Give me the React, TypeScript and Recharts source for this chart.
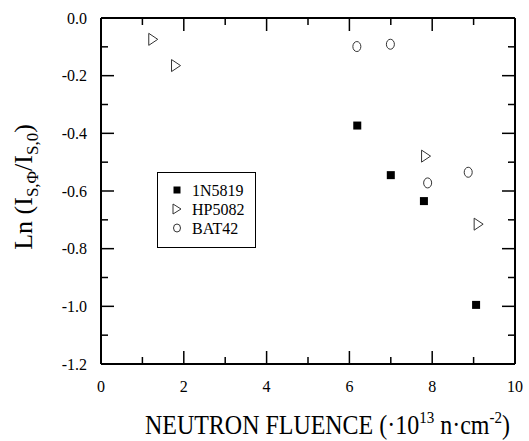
import { ScatterChart, Scatter, XAxis, YAxis, Legend, ReferenceLine } from 'recharts';

const FONT = "'Liberation Serif', 'Times New Roman', Times, serif";
const txt = { fontFamily: FONT };

// axis ticks (majors get labels)
const xTicks = [0, 1, 2, 3, 4, 5, 6, 7, 8, 9, 10];
const yTicks = [0, -0.1, -0.2, -0.3, -0.4, -0.5, -0.6, -0.7, -0.8, -0.9, -1.0, -1.1, -1.2];
const xDomain = [0, 10];
const yDomain = [-1.2, 0];

// series
const n5819 = [
  { x: 6.19, y: -0.373 },
  { x: 7.0, y: -0.545 },
  { x: 7.8, y: -0.635 },
  { x: 9.06, y: -0.995 },
];
const hp5082 = [
  { x: 1.25, y: -0.074 },
  { x: 1.8, y: -0.165 },
  { x: 7.84, y: -0.479 },
  { x: 9.11, y: -0.715 },
];
const bat42 = [
  { x: 6.18, y: -0.099 },
  { x: 6.99, y: -0.091 },
  { x: 7.89, y: -0.572 },
  { x: 8.87, y: -0.535 },
];

const seriesNames = ['1N5819', 'HP5082', 'BAT42'];

// chart box
const W = 529;
const H = 441;
const margin = { top: 18, right: 14, bottom: 0, left: 0 };
const yAxisW = 101;
const xAxisH = 77;
const plotW = W - margin.left - margin.right - yAxisW;
const plotH = H - margin.top - margin.bottom - xAxisH;

const isMajorX = (v: number) => Math.round(v) % 2 === 0;
const isMajorY = (v: number) => Math.round(Math.abs(v) * 10) % 2 === 0;

const Square = ({ cx, cy }: any) => <rect x={cx - 4} y={cy - 4} width={8} height={8} fill="#000" />;
const Triangle = ({ cx, cy }: any) => (
  <polygon
    points={`${cx - 4},${cy - 6} ${cx + 5},${cy} ${cx - 4},${cy + 6}`}
    fill="#fff"
    stroke="#333"
    strokeWidth={1}
  />
);
const Ring = ({ cx, cy }: any) => <ellipse cx={cx} cy={cy} rx={4} ry={5} fill="#fff" stroke="#333" strokeWidth={1} />;

// bottom ticks point up; the same ticks are mirrored on the top edge
const BottomTick = ({ x, y, payload }: any) => {
  const major = isMajorX(payload.value);
  const len = major ? 13 : 7;
  const yt = y - plotH;
  return (
    <g>
      <line x1={x} x2={x} y1={y} y2={y - len} stroke="#000" strokeWidth={1.5} />
      <line x1={x} x2={x} y1={yt} y2={yt + len} stroke="#000" strokeWidth={1.5} />
      {major && (
        <text x={x} y={y + 28} textAnchor="middle" fontSize={16} style={txt} fill="#000">
          {payload.value}
        </text>
      )}
    </g>
  );
};

// left ticks point right; the same ticks are mirrored on the right edge
const LeftTick = ({ x, y, payload }: any) => {
  const major = isMajorY(payload.value);
  const len = major ? 13 : 7;
  const xr = x + plotW;
  return (
    <g>
      <line x1={x} x2={x + len} y1={y} y2={y} stroke="#000" strokeWidth={1.5} />
      <line x1={xr} x2={xr - len} y1={y} y2={y} stroke="#000" strokeWidth={1.5} />
      {major && (
        <text x={x - 14} y={y + 5.5} textAnchor="end" fontSize={16} style={txt} fill="#000">
          {Number(payload.value).toFixed(1)}
        </text>
      )}
    </g>
  );
};

const xTitle = ({ viewBox }: any) => (
  <text
    x={viewBox.x + 44}
    y={viewBox.y + 70}
    fontSize={27}
    style={txt}
    fill="#000"
    textLength={365}
    lengthAdjust="spacingAndGlyphs"
  >
    NEUTRON FLUENCE (·10
    <tspan dy={-11} fontSize={17}>13</tspan>
    <tspan dy={11}> n·cm</tspan>
    <tspan dy={-11} fontSize={17}>-2</tspan>
    <tspan dy={11}>)</tspan>
  </text>
);

const yTitle = ({ viewBox }: any) => {
  const cx = viewBox.x + 32;
  const cy = viewBox.y + viewBox.height / 2 - 4;
  return (
    <text
      x={cx}
      y={cy}
      transform={`rotate(-90 ${cx} ${cy})`}
      textAnchor="middle"
      fontSize={26}
      style={txt}
      fill="#000"
    >
      Ln (I
      <tspan dy={6} fontSize={17}>S,Φ</tspan>
      <tspan dy={-6}>/I</tspan>
      <tspan dy={6} fontSize={17}>S,0</tspan>
      <tspan dy={-6}>)</tspan>
    </text>
  );
};

const LegendBox = () => (
  <svg width={99} height={76} style={{ display: 'block' }}>
    <rect x={0.5} y={0.5} width={98} height={75} fill="#fff" stroke="#000" strokeWidth={1} />
    {seriesNames.map((name, i) => {
      const cy = 18 + i * 19;
      return (
        <g key={name}>
          {i === 0 && <rect x={16.5} y={cy - 3.5} width={7} height={7} fill="#000" />}
          {i === 1 && (
            <polygon points={`16,${cy - 5} 24,${cy} 16,${cy + 5}`} fill="#fff" stroke="#333" strokeWidth={1} />
          )}
          {i === 2 && <ellipse cx={20} cy={cy} rx={3.5} ry={4} fill="#fff" stroke="#333" strokeWidth={1} />}
          <text x={35} y={cy + 5.5} fontSize={16} style={txt} fill="#000">
            {name}
          </text>
        </g>
      );
    })}
  </svg>
);

export default function App() {
  return (
    <div style={{ position: 'absolute', left: 0, top: 0, width: W, height: H, background: '#fff' }}>
      <ScatterChart width={W} height={H} margin={margin}>
        <XAxis
          dataKey="x"
          type="number"
          domain={xDomain}
          ticks={xTicks}
          interval={0}
          height={xAxisH}
          tickSize={0}
          tickMargin={0}
          tickLine={false}
          axisLine={{ stroke: '#000', strokeWidth: 2 }}
          tick={<BottomTick />}
          label={xTitle}
        />
        <YAxis
          dataKey="y"
          type="number"
          domain={yDomain}
          ticks={yTicks}
          interval={0}
          width={yAxisW}
          tickSize={0}
          tickMargin={0}
          tickLine={false}
          axisLine={{ stroke: '#000', strokeWidth: 2 }}
          tick={<LeftTick />}
          label={yTitle}
        />
        {/* top and right edges of the frame */}
        <ReferenceLine y={yDomain[1]} stroke="#000" strokeWidth={2} />
        <ReferenceLine x={xDomain[1]} stroke="#000" strokeWidth={2} />
        <Scatter name="1N5819" data={n5819} shape={Square} isAnimationActive={false} />
        <Scatter name="HP5082" data={hp5082} shape={Triangle} isAnimationActive={false} />
        <Scatter name="BAT42" data={bat42} shape={Ring} isAnimationActive={false} />
        <Legend
          layout="vertical"
          align="center"
          verticalAlign="middle"
          content={<LegendBox />}
          wrapperStyle={{ left: 157, top: 172, width: 99, height: 76 }}
        />
      </ScatterChart>
    </div>
  );
}
